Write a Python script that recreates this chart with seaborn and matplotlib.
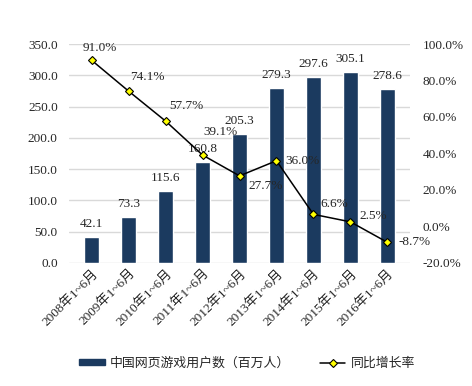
import matplotlib
matplotlib.use('Agg')
import matplotlib.pyplot as plt
import seaborn as sns
import pandas as pd
import numpy as np
from matplotlib.patches import Patch
from matplotlib.lines import Line2D

periods = ['2008年1~6月', '2009年1~6月', '2010年1~6月', '2011年1~6月', '2012年1~6月',
           '2013年1~6月', '2014年1~6月', '2015年1~6月', '2016年1~6月']
users = [42.1, 73.3, 115.6, 160.8, 205.3, 279.3, 297.6, 305.1, 278.6]
growth = [91.0, 74.1, 57.7, 39.1, 27.7, 36.0, 6.6, 2.5, -8.7]
# label offsets in pixels (dx, dy) for the growth labels
g_off = [(8, 12), (19, 14), (21, 15), (18, 23), (26, -10), (26, 0), (21, 10), (23, 6), (27, 0)]

sns.set_style('white')
plt.rcParams['font.family'] = ['Liberation Serif', 'Noto Sans CJK SC', 'DejaVu Sans']
plt.rcParams['axes.unicode_minus'] = False

bar_col = '#1b3a5f'
fs = 9.5

fig = plt.figure(figsize=(4.72, 3.86), dpi=100)
ax = fig.add_axes([0.146, 0.319, 0.723, 0.567])
df = pd.DataFrame({'period': periods, 'users': users, 'growth': growth, 'pos': np.arange(len(periods))})

sns.barplot(data=df, x='period', y='users', color=bar_col, saturation=1, width=0.4, ax=ax, zorder=2)
ax.set_ylim(0, 350)
ax.set_yticks(np.arange(0, 351, 50))
ax.set_yticklabels(['%.1f' % v for v in np.arange(0, 351, 50)], fontsize=fs)
ax.yaxis.grid(True, color='#d9d9d9', linewidth=1, zorder=0)
ax.set_axisbelow(True)
ax.set_xlabel('')
ax.set_ylabel('')
ax.set_xticks(range(len(periods)))
ax.set_xticklabels(periods, rotation=45, ha='right', rotation_mode='anchor', fontsize=fs)
ax.tick_params(axis='y', length=0, pad=8)
ax.tick_params(axis='x', length=0, pad=3)
for s in ax.spines.values():
    s.set_visible(False)
for i, v in enumerate(users):
    ax.annotate('%.1f' % v, (i, v), xytext=(0, 13), textcoords='offset pixels',
                ha='center', va='center', fontsize=fs)

ax2 = ax.twinx()
sns.lineplot(data=df, x='pos', y='growth', color='black', linewidth=1.1, marker='D',
             markersize=4.5, markerfacecolor='#ffff00', markeredgecolor='black',
             markeredgewidth=0.8, ax=ax2, zorder=3)
ax2.set_ylim(-20, 100)
ax2.set_yticks(np.arange(-20, 101, 20))
ax2.set_yticklabels(['%.1f%%' % v for v in np.arange(-20, 101, 20)], fontsize=fs)
ax2.set_ylabel('')
ax2.set_xlabel('')
ax2.tick_params(axis='both', length=0, pad=9)
for s in ax2.spines.values():
    s.set_visible(False)
ax2.set_xlim(ax.get_xlim())
for i, v in enumerate(growth):
    dx, dy = g_off[i]
    ax2.annotate('%.1f%%' % v, (i, v), xytext=(dx, dy), textcoords='offset pixels',
                 ha='center', va='center', fontsize=fs)

handles = [Patch(color=bar_col),
           Line2D([0], [0], color='black', linewidth=1.1, marker='D', markersize=4.5,
                  markerfacecolor='#ffff00', markeredgecolor='black', markeredgewidth=0.8)]
fig.legend(handles, ['中国网页游戏用户数（百万人）', '同比增长率'], loc='center',
           bbox_to_anchor=(0.523, 0.058), ncol=2, frameon=False, fontsize=9.3,
           handlelength=2.0, handleheight=0.4, columnspacing=2.3, handletextpad=0.4)

fig.savefig('out.png', dpi=100)
